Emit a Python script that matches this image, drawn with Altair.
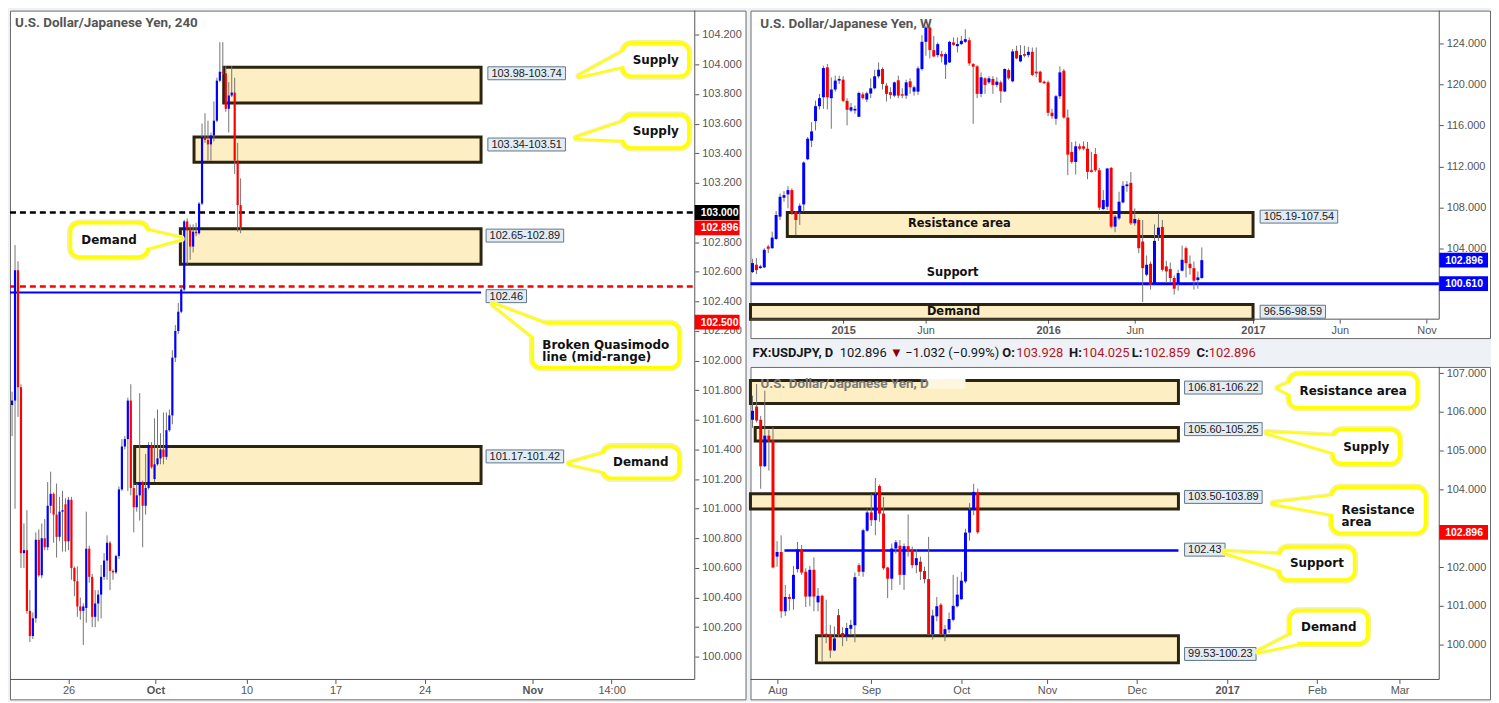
import altair as alt
import pandas as pd

# ======================= DATA =======================
# ---- USD/JPY 240-minute candles (oldest -> newest) ----
h4_open = [101.70, 101.73, 102.61, 101.82, 100.70, 100.72, 100.31, 100.14, 100.26, 100.79,
           100.55, 100.80, 100.74, 101.02, 101.10, 100.96, 100.81, 100.98, 101.03, 100.78,
           101.06, 100.60, 100.51, 100.34, 100.31, 100.33, 100.73, 100.54, 100.27, 100.36,
           100.42, 100.54, 100.65, 100.77, 100.58, 100.57, 100.68, 101.13, 101.42, 101.47,
           101.73, 101.14, 101.01, 101.09, 101.18, 101.02, 101.14, 101.43, 101.20, 101.30,
           101.34, 101.40, 101.35, 101.53, 101.63, 102.02, 102.20, 102.33, 102.48, 102.94,
           102.88, 102.77, 102.87, 102.86, 103.06, 103.51, 103.49, 103.46, 103.52, 103.62,
           103.89, 103.95, 103.94, 103.70, 103.79, 103.81, 103.35, 103.05]
h4_high = [101.79, 102.78, 102.67, 101.84, 100.90, 100.99, 100.45, 100.30, 100.84, 100.86,
           100.90, 100.93, 101.18, 101.25, 101.11, 101.17, 101.08, 101.12, 101.07, 101.08,
           101.08, 100.61, 100.61, 100.40, 100.36, 100.98, 100.75, 100.56, 100.45, 100.45,
           100.62, 100.70, 100.82, 100.78, 100.59, 100.69, 101.15, 101.47, 101.49, 101.75,
           101.84, 101.17, 101.17, 101.78, 101.19, 101.37, 101.45, 101.45, 101.61, 101.67,
           101.51, 101.65, 101.65, 101.67, 102.07, 102.24, 102.39, 102.51, 102.95, 102.96,
           102.92, 102.92, 102.93, 103.07, 103.60, 103.67, 103.62, 103.54, 103.75, 103.91,
           104.15, 104.15, 103.99, 103.88, 103.99, 103.91, 103.47, 103.23]
h4_low = [101.49, 101.00, 101.62, 100.60, 100.60, 100.29, 100.10, 100.12, 100.23, 100.54,
          100.53, 100.72, 100.72, 100.97, 100.77, 100.67, 100.78, 100.71, 100.71, 100.72,
          100.52, 100.41, 100.27, 100.25, 100.08, 100.23, 100.50, 100.20, 100.20, 100.24,
          100.26, 100.52, 100.52, 100.45, 100.52, 100.56, 100.66, 101.12, 101.40, 101.12,
          101.09, 100.84, 100.98, 100.92, 100.74, 100.96, 101.13, 101.27, 101.18, 101.29,
          101.30, 101.30, 101.33, 101.52, 101.57, 101.99, 102.18, 102.32, 102.47, 102.65,
          102.68, 102.73, 102.84, 102.85, 103.05, 103.47, 103.35, 103.35, 103.48, 103.61,
          103.88, 103.93, 103.68, 103.54, 103.78, 103.26, 102.87, 102.86]
h4_close = [101.73, 102.61, 101.82, 100.70, 100.72, 100.31, 100.14, 100.26, 100.79, 100.55,
            100.80, 100.74, 101.02, 101.10, 100.96, 100.81, 100.98, 100.99, 100.78, 101.06,
            100.60, 100.51, 100.34, 100.31, 100.34, 100.73, 100.54, 100.27, 100.36, 100.42,
            100.54, 100.65, 100.77, 100.58, 100.57, 100.68, 101.13, 101.42, 101.47, 101.73,
            101.14, 101.01, 101.09, 101.18, 101.02, 101.14, 101.43, 101.28, 101.30, 101.34,
            101.40, 101.35, 101.53, 101.63, 102.02, 102.20, 102.33, 102.48, 102.94, 102.88,
            102.77, 102.87, 102.86, 103.06, 103.51, 103.49, 103.46, 103.52, 103.62, 103.89,
            103.95, 103.94, 103.70, 103.79, 103.81, 103.35, 103.05, 102.896]
h4_tick_pos = [19, 48.3, 79, 109, 139, 175.3, 202]
h4_tick_lab = ["26", "Oct", "10", "17", "24", "Nov", "14:00"]
h4_tick_bold = ["Oct", "Nov"]
h4_price_ticks = [100.0, 100.2, 100.4, 100.6, 100.8, 101.0, 101.2, 101.4, 101.6, 101.8, 102.0,
                  102.2, 102.4, 102.6, 102.8, 103.2, 103.4, 103.6, 103.8, 104.0, 104.2]
h4_zone_start = [71.3, 61.3, 56.7, 41.3]
h4_zone_end = [158, 158, 158, 158]
h4_zone_lo = [103.74, 103.34, 102.65, 101.17]
h4_zone_hi = [103.98, 103.51, 102.89, 101.42]
h4_box_text = ["103.98-103.74", "103.34-103.51", "102.65-102.89", "102.46", "101.17-101.42"]
h4_box_x = [160.3, 160.3, 159.7, 159.7, 159.7]
h4_box_y = [103.94, 103.459, 102.844, 102.435, 101.353]
h4_round = 103.0
h4_mid = 102.5
h4_bqm = 102.46
h4_badge_text = ["103.000", "102.896", "102.500"]
h4_badge_y = [103.0, 102.896, 102.26]
h4_badge_col = ["#000000", "#ff0000", "#ff0000"]

# ---- USD/JPY weekly candles ----
w_open = [101.74, 102.45, 102.12, 102.19, 104.22, 104.06, 104.96, 107.13, 108.97, 109.29,
          109.71, 107.55, 107.55, 108.32, 112.71, 114.52, 116.42, 117.87, 118.74, 121.65,
          118.65, 119.49, 120.36, 120.45, 118.39, 117.45, 117.45, 116.84, 119.03, 118.52,
          119.10, 119.61, 120.78, 121.49, 119.87, 119.23, 118.90, 120.39, 119.03, 118.90,
          120.29, 119.29, 119.29, 121.49, 124.13, 125.52, 123.33, 122.84, 122.94, 121.91,
          122.13, 124.07, 123.71, 123.91, 124.13, 124.29, 121.97, 121.74, 119.07, 120.58,
          120.19, 120.52, 119.94, 120.19, 119.29, 121.39, 120.29, 123.26, 122.23, 122.94,
          122.84, 123.16, 121.23, 121.23, 120.26, 120.19, 117.23, 116.65, 118.84, 121.32,
          116.77, 113.42, 112.45, 113.97, 113.97, 113.74, 111.64, 113.22, 111.64, 107.87,
          108.09, 111.87, 106.16, 106.96, 108.51, 110.09, 110.42, 106.48, 106.80, 104.71,
          101.48, 102.54, 100.51, 105.35, 106.13, 102.29, 102.03, 101.16, 100.58, 101.87,
          104.06, 102.54, 102.12, 100.96, 101.16]
w_high = [103.03, 103.09, 102.45, 104.06, 104.38, 105.67, 107.67, 109.38, 109.61, 110.09,
          109.87, 107.67, 108.42, 112.51, 114.87, 116.32, 118.42, 119.07, 121.81, 121.97,
          120.68, 120.84, 120.84, 120.78, 118.65, 118.19, 117.94, 119.29, 119.23, 119.29,
          120.58, 121.42, 122.13, 121.65, 120.13, 119.71, 120.26, 120.84, 119.61, 120.45,
          120.58, 119.87, 121.74, 124.78, 125.68, 125.62, 124.71, 124.07, 123.26, 123.10,
          124.23, 124.55, 124.55, 124.71, 125.36, 124.55, 122.07, 121.87, 121.16, 120.68,
          120.78, 120.78, 120.68, 120.36, 121.55, 121.55, 123.42, 123.75, 123.81, 123.75,
          123.65, 123.58, 123.58, 121.32, 120.36, 120.36, 117.61, 118.97, 121.74, 121.49,
          117.55, 114.39, 114.45, 114.23, 114.45, 114.39, 113.42, 113.81, 111.87, 109.71,
          111.87, 111.97, 107.29, 109.55, 110.58, 110.58, 111.48, 107.93, 106.96, 106.80,
          103.35, 102.77, 106.38, 107.45, 106.80, 102.83, 102.67, 101.41, 101.96, 104.32,
          104.22, 103.35, 102.77, 101.80, 104.13]
w_low = [101.64, 101.54, 102.06, 102.12, 103.58, 104.00, 104.87, 106.80, 108.58, 107.93,
         107.29, 105.35, 106.32, 107.61, 112.61, 113.90, 115.52, 117.55, 117.61, 117.55,
         115.68, 119.29, 120.03, 118.26, 116.00, 117.29, 117.13, 116.81, 118.52, 118.26,
         118.65, 119.49, 120.58, 119.49, 118.32, 118.58, 118.74, 118.65, 118.65, 118.58,
         119.07, 118.90, 118.97, 121.32, 122.78, 122.52, 122.62, 122.62, 122.13, 120.52,
         122.07, 123.75, 123.10, 123.81, 124.00, 121.81, 116.16, 118.65, 118.74, 119.07,
         120.03, 119.07, 119.71, 118.19, 119.23, 120.45, 120.19, 122.45, 122.13, 122.62,
         122.62, 120.78, 120.68, 120.13, 120.03, 116.90, 116.65, 116.06, 118.58, 116.65,
         111.16, 112.29, 111.22, 113.58, 113.58, 110.77, 111.42, 111.48, 107.77, 107.77,
         107.77, 106.00, 105.61, 106.80, 108.42, 109.55, 106.32, 106.26, 103.58, 98.83,
         101.32, 100.03, 100.45, 104.77, 101.80, 100.67, 100.77, 99.54, 99.93, 101.80,
         101.22, 101.48, 100.03, 100.12, 101.09]
w_close = [102.61, 101.93, 102.29, 103.90, 104.00, 105.09, 107.29, 109.06, 109.22, 109.71,
           107.55, 106.80, 108.19, 112.39, 114.71, 115.42, 117.87, 118.65, 121.58, 118.74,
           119.49, 120.36, 120.52, 118.39, 117.52, 117.77, 117.61, 119.16, 118.65, 119.13,
           119.61, 120.78, 121.42, 120.03, 119.07, 118.97, 120.19, 118.90, 118.90, 120.19,
           119.71, 119.71, 121.55, 124.13, 125.52, 123.33, 122.71, 123.91, 122.71, 122.94,
           124.13, 123.84, 123.91, 124.23, 124.39, 122.03, 121.71, 119.07, 120.68, 119.94,
           120.58, 119.94, 120.26, 119.32, 121.49, 120.58, 123.20, 122.52, 122.84, 122.78,
           123.16, 120.91, 121.07, 120.19, 120.10, 117.23, 116.90, 118.84, 121.16, 116.77,
           113.16, 112.45, 113.97, 113.74, 113.74, 111.48, 111.48, 111.64, 108.00, 108.74,
           111.81, 106.16, 107.13, 108.58, 110.13, 110.26, 106.48, 106.90, 104.06, 102.12,
           102.45, 100.51, 104.77, 106.06, 101.96, 101.80, 101.16, 100.12, 101.64, 102.93,
           102.61, 102.12, 100.90, 101.22, 102.896]
w_tick_pos = [23.0, 43.9, 75.0, 97.0, 127.0, 149.0, 171.0]
w_tick_lab = ["2015", "Jun", "2016", "Jun", "2017", "Jun", "Nov"]
w_tick_bold = ["2015", "2016", "2017"]
w_price_ticks = [104, 108, 112, 116, 120, 124]
w_zone_start = [8.84, -0.5]
w_zone_end = [127.0, 127.0]
w_zone_lo = [105.19, 96.56]
w_zone_hi = [107.54, 98.59]
w_zone_names = ["Resistance area", "Demand"]
w_zone_name_x = [52.5, 51.0]
w_zone_name_y = [106.365, 97.87]
w_support = 100.61
w_box_text = ["105.19-107.54", "96.56-98.59"]
w_box_x = [128.8, 128.8]
w_box_y = [107.13, 97.88]
w_badge_text = ["102.896", "100.610"]
w_badge_y = [102.896, 100.61]
w_badge_col = ["#0000ff", "#0000ff"]

# ---- USD/JPY daily candles ----
d_open = [105.80, 106.14, 105.80, 104.60, 105.39, 105.26, 102.27, 102.39, 100.86, 101.23,
          101.18, 101.95, 102.46, 101.88, 101.24, 101.93, 101.09, 101.26, 100.28, 100.26,
          99.85, 100.76, 100.30, 100.21, 100.41, 100.50, 102.05, 101.88, 102.94, 103.41,
          103.21, 104.09, 103.38, 101.99, 101.70, 102.48, 102.55, 101.80, 102.54, 102.44,
          102.05, 102.14, 101.90, 101.69, 100.27, 100.73, 101.03, 100.27, 100.39, 100.64,
          100.99, 101.17, 101.63, 102.89, 103.47, 103.928]
d_high = [106.42, 106.72, 105.90, 106.55, 105.54, 105.61, 102.67, 102.82, 101.54, 101.31,
          102.03, 102.65, 102.57, 101.97, 102.03, 102.25, 101.46, 101.29, 101.16, 100.51,
          100.47, 100.92, 100.45, 100.56, 100.64, 101.86, 102.10, 102.99, 103.51, 103.89,
          104.30, 104.13, 103.81, 102.01, 102.61, 102.70, 102.70, 102.61, 103.36, 102.53,
          102.46, 102.27, 102.01, 102.78, 100.90, 101.23, 101.07, 100.51, 100.83, 101.80,
          101.75, 101.88, 102.99, 103.65, 104.15, 104.025]
d_low = [105.59, 105.73, 104.02, 104.58, 104.49, 101.97, 102.01, 100.69, 100.74, 100.88,
         100.90, 101.86, 101.80, 100.97, 100.99, 100.86, 100.86, 99.57, 100.04, 99.66,
         99.83, 100.20, 99.96, 100.09, 100.26, 100.06, 101.77, 101.75, 102.91, 103.06,
         102.82, 103.17, 101.93, 101.20, 101.41, 102.35, 101.54, 101.41, 102.27, 101.97,
         101.84, 101.67, 101.58, 100.26, 100.13, 100.60, 100.26, 100.09, 100.30, 100.60,
         100.96, 101.16, 101.58, 102.68, 103.34, 102.859]
d_close = [106.03, 105.78, 104.60, 105.39, 105.26, 101.99, 102.39, 100.86, 101.23, 101.18,
           101.80, 102.46, 101.86, 101.24, 101.93, 101.24, 101.26, 100.26, 100.24, 99.85,
           100.16, 100.26, 100.21, 100.43, 100.51, 101.74, 101.88, 102.95, 103.41, 103.21,
           103.88, 103.38, 101.97, 101.70, 102.48, 102.64, 101.80, 102.54, 102.41, 102.05,
           102.23, 101.88, 101.69, 100.27, 100.75, 100.99, 100.27, 100.40, 100.66, 101.00,
           101.29, 101.65, 102.89, 103.48, 103.94, 102.896]
d_tick_pos = [6.08, 28.9, 51.0, 71.9, 93.8, 115.9, 137.8, 158.0]
d_tick_lab = ["Aug", "Sep", "Oct", "Nov", "Dec", "2017", "Feb", "Mar"]
d_tick_bold = ["2017"]
d_price_ticks = [100, 101, 102, 104, 105, 106, 107]
d_zone_start = [-0.5, 0.66, -0.5, 15.6]
d_zone_end = [104.0, 104.0, 104.0, 104.0]
d_zone_lo = [106.22, 105.25, 103.50, 99.53]
d_zone_hi = [106.81, 105.60, 103.89, 100.23]
d_support = 102.43
d_box_text = ["106.81-106.22", "105.60-105.25", "103.50-103.89", "102.43", "99.53-100.23"]
d_box_x = [105.5, 105.5, 105.5, 105.5, 105.5]
d_box_y = [106.63, 105.558, 103.81, 102.45, 99.76]
d_badge_text = ["102.896"]
d_badge_y = [102.896]
d_badge_col = ["#ff0000"]
d_head_text = ["FX:USDJPY, D", "102.896", "\u25bc", "\u22121.032 (\u22120.99%)", "O:", "103.928",
               "H:", "104.025", "L:", "102.859", "C:", "102.896"]
d_head_x = [0.0, 21.3, 33.6, 37.3, 61.0, 64.4, 77.3, 80.6, 92.6, 95.5, 108.4, 111.4]
d_head_col = ["#131722", "#131722", "#8b0000", "#131722", "#131722", "#b5161c",
              "#131722", "#b5161c", "#131722", "#b5161c", "#131722", "#b5161c"]
d_head_bold = [True, False, False, False, True, False, True, False, True, False, True, False]

# ======================= STYLE =======================
UP, DN, WICK = "#0000ff", "#ff0000", "#747474"
ZONE_FILL, ZONE_STROKE = "#fdefc3", "#2b2410"
LBL_FILL, LBL_STROKE = "#e3ebf3", "#5f7689"
YEL, GLOW = "#ffff00", "#f6f1a0"
AXC = "#555555"
BG = "#eef1f5"
F_AX = "Liberation Sans"
F_TXT = "DejaVu Sans"
F_TTL = "Roboto"


def text_w(s, size):
    w = 0.0
    for ch in s:
        if ch.isdigit():
            w += 0.556
        elif ch == ".":
            w += 0.278
        elif ch == "-":
            w += 0.333
        else:
            w += 0.5
    return w * size


def lab_expr(pos, lab):
    e = "''"
    for p, t in zip(pos[::-1], lab[::-1]):
        e = f"datum.value == {p} ? '{t}' : ({e})"
    return e


def build(cfg):
    W, H, PW, PH = cfg["W"], cfg["H"], cfg["PW"], cfg["PH"]
    x0, x1, ytop, ybot = cfg["x0"], cfg["x1"], cfg["ytop"], cfg["ybot"]
    kx = PW / (x1 - x0)
    ky = PH / (ytop - ybot)
    xs = alt.Scale(domain=[x0, x0 + W / kx], nice=False, zero=False, padding=0)
    ys = alt.Scale(domain=[ytop - H / ky, ytop], nice=False, zero=False, padding=0)
    bold_test = " || ".join(f"datum.value == {p}" for p, t in zip(cfg["xt_pos"], cfg["xt_lab"])
                            if t in cfg["xt_bold"]) or "false"
    xaxis = alt.Axis(orient="bottom", offset=-(H - PH), values=cfg["xt_pos"],
                     labelExpr=lab_expr(cfg["xt_pos"], cfg["xt_lab"]),
                     labelFont=F_AX, labelFontSize=11, labelColor=AXC,
                     labelFontWeight={"condition": {"test": bold_test, "value": "bold"}, "value": "normal"},
                     tickColor=AXC, tickSize=4, labelPadding=1, domain=False, grid=False,
                     title=None, labelOverlap=False, labelFlush=False)
    yaxis = alt.Axis(orient="right", offset=-(W - PW), values=cfg["yt"], format=cfg["yfmt"],
                     labelFont=F_AX, labelFontSize=11, labelColor=AXC, tickColor=AXC, tickSize=4,
                     labelPadding=3, domain=False, grid=False, title=None, labelOverlap=False,
                     labelFlush=False)

    def X(f):
        return alt.X(f"{f}:Q", scale=xs, axis=xaxis)

    def Y(f):
        return alt.Y(f"{f}:Q", scale=ys, axis=yaxis, stack=None)

    L = []
    # zones
    zd = pd.DataFrame({"a": cfg["z_a"], "b": cfg["z_b"],
                       "lo": [max(v, ybot) for v in cfg["z_lo"]], "hi": cfg["z_hi"]})
    L.append(alt.Chart(zd).mark_rect(fill=ZONE_FILL, stroke=ZONE_STROKE, strokeWidth=3)
             .encode(x=X("a"), x2="b", y=Y("lo"), y2="hi"))
    # horizontal lines
    for ln in cfg["lines"]:
        df = pd.DataFrame({"a": [ln["a"] if ln["a"] is not None else x0],
                           "b": [ln["b"] if ln["b"] is not None else x1], "v": [ln["v"]]})
        kw = dict(color=ln["color"], strokeWidth=ln["width"])
        if ln.get("dash"):
            kw["strokeDash"] = ln["dash"]
        L.append(alt.Chart(df).mark_rule(**kw).encode(x=X("a"), x2="b", y=Y("v")))
    # candles
    cd = pd.DataFrame({"i": list(range(len(cfg["o"]))), "o": cfg["o"], "h": cfg["h"],
                       "l": cfg["l"], "c": cfg["c"]})
    L.append(alt.Chart(cd).mark_rule(color=WICK, strokeWidth=1).encode(x=X("i"), y=Y("l"), y2="h"))
    L.append(alt.Chart(cd).mark_bar(size=cfg["bw"]).encode(
        x=X("i"), y=Y("o"), y2="c",
        color=alt.condition("datum.c >= datum.o", alt.value(UP), alt.value(DN))))
    # axis lines
    ad = pd.DataFrame({"a": [x1, x0], "b": [x1, x1], "p": [ybot, ybot], "q": [ytop, ybot]})
    L.append(alt.Chart(ad).mark_rule(color=AXC, strokeWidth=1)
             .encode(x=X("a"), x2="b", y=Y("p"), y2="q"))
    # inline zone names
    if cfg.get("in_t"):
        idf = pd.DataFrame({"x": cfg["in_x"], "y": cfg["in_y"], "t": cfg["in_t"]})
        L.append(alt.Chart(idf).mark_text(font=F_TXT, fontWeight="bold", fontSize=11.5,
                                          color="#111111", align="center", baseline="middle")
                 .encode(x=X("x"), y=Y("y"), text="t:N"))
    # price label boxes
    lb = pd.DataFrame({"x": cfg["lb_x"], "y": cfg["lb_y"], "t": cfg["lb_t"]})
    lb["x2"] = lb["x"] + lb["t"].map(lambda s: (text_w(s, 11) + 7) / kx)
    lb["xm"] = (lb["x"] + lb["x2"]) / 2
    lb["y0"] = lb["y"] - 6.5 / ky
    lb["y1"] = lb["y"] + 6.5 / ky
    L.append(alt.Chart(lb).mark_rect(fill=LBL_FILL, stroke=LBL_STROKE, strokeWidth=1)
             .encode(x=X("x"), x2="x2", y=Y("y0"), y2="y1"))
    L.append(alt.Chart(lb).mark_text(font=F_AX, fontSize=11, color="#1a1a1a", align="center",
                                     baseline="middle", dy=0.5)
             .encode(x=X("xm"), y=Y("y"), text="t:N"))
    # callout bubbles
    bb = cfg["bubbles"]
    if bb:
        tri, box = [], []
        for k, b in enumerate(bb):
            tri.append({"id": k, "x": b["tip"][0], "y": b["tip"][1], "y2": b["tip"][1]})
            tri.append({"id": k, "x": b["base"][0], "y": b["base"][1], "y2": b["base"][2]})
            bx0, bx1, blo, bhi = b["box"]
            box.append({"a": bx0, "b": bx1, "lo": blo, "hi": bhi,
                        "xm": (bx0 + bx1) / 2, "xl": bx0 + 10 / kx, "ym": (blo + bhi) / 2,
                        "t": b["text"], "al": b.get("align", "center")})
        td = pd.DataFrame(tri)
        bd = pd.DataFrame(box)

        def tri_layer(stroke, sw):
            kw = dict(fill="white", strokeJoin="round")
            if stroke:
                kw.update(stroke=stroke, strokeWidth=sw)
            else:
                kw.update(strokeWidth=0)
            return alt.Chart(td).mark_area(**kw).encode(x=X("x"), y=Y("y"), y2="y2", detail="id:N")

        def box_layer(stroke, sw):
            return alt.Chart(bd).mark_rect(fill="white", stroke=stroke, strokeWidth=sw, cornerRadius=9) \
                .encode(x=X("a"), x2="b", y=Y("lo"), y2="hi")

        L += [tri_layer(GLOW, 7), box_layer(GLOW, 7), tri_layer(YEL, 4), box_layer(YEL, 3.5),
              tri_layer(None, 0)]
        bc = bd[bd["al"] == "center"]
        bl = bd[bd["al"] == "left"]
        if len(bc):
            L.append(alt.Chart(bc).mark_text(font=F_TXT, fontWeight="bold", fontSize=12, color="#111111",
                                             align="center", baseline="middle", lineBreak="\n")
                     .encode(x=X("xm"), y=Y("ym"), text="t:N"))
        if len(bl):
            L.append(alt.Chart(bl).mark_text(font=F_TXT, fontWeight="bold", fontSize=12, color="#111111",
                                             align="left", baseline="middle", lineBreak="\n", lineHeight=12)
                     .encode(x=X("xl"), y=Y("ym"), text="t:N"))
    # price badges on the axis
    bg = pd.DataFrame({"y": cfg["bd_y"], "t": cfg["bd_t"], "col": cfg["bd_c"]})
    bg["a"] = x1
    bg["b"] = x1 + cfg["bd_w"] / kx
    bg["y0"] = bg["y"] - 7.5 / ky
    bg["y1"] = bg["y"] + 7.5 / ky
    bg["xt"] = x1 + 6 / kx
    L.append(alt.Chart(bg).mark_rect().encode(x=X("a"), x2="b", y=Y("y0"), y2="y1",
                                               color=alt.Color("col:N", scale=None)))
    L.append(alt.Chart(bg).mark_text(font=F_AX, fontWeight="bold", fontSize=10.5, color="white",
                                     align="left", baseline="middle", dy=0.5)
             .encode(x=X("xt"), y=Y("y"), text="t:N"))
    # extra pale rect (daily legend)
    if cfg.get("pale"):
        pa, pb, plo, phi = cfg["pale"]
        pdf = pd.DataFrame({"a": [pa], "b": [pb], "lo": [plo], "hi": [phi]})
        L.append(alt.Chart(pdf).mark_rect(fill="#fcf7de").encode(x=X("a"), x2="b", y=Y("lo"), y2="hi"))
    # title
    tdf = pd.DataFrame({"x": [cfg["ttl"][0]], "y": [cfg["ttl"][1]], "t": [cfg["ttl"][2]]})
    L.append(alt.Chart(tdf).mark_text(font=F_TTL, fontWeight="bold", fontSize=13.5,
                                      color=cfg.get("ttl_col", "#555555"), align="left",
                                      baseline="middle")
             .encode(x=X("x"), y=Y("y"), text="t:N"))
    # header line (daily)
    if cfg.get("head"):
        hx, hy, ht, hc, hb = cfg["head"]
        hdf = pd.DataFrame({"x": hx, "y": [hy] * len(hx), "t": ht, "col": hc, "b": hb})
        for flag, wt in ((True, "bold"), (False, "normal")):
            sub = hdf[hdf["b"] == flag]
            L.append(alt.Chart(sub).mark_text(font=F_TTL, fontWeight=wt, fontSize=13,
                                              align="left", baseline="middle")
                     .encode(x=X("x"), y=Y("y"), text="t:N",
                             color=alt.Color("col:N", scale=None)))
    return alt.layer(*L).properties(width=W, height=H)


H4 = dict(W=739, H=692, PW=688, PH=672, x0=-0.7, x1=230.0, ytop=104.363, ybot=99.847,
          o=h4_open, h=h4_high, l=h4_low, c=h4_close, bw=2.2,
          xt_pos=h4_tick_pos, xt_lab=h4_tick_lab, xt_bold=h4_tick_bold,
          yt=h4_price_ticks, yfmt=".3f",
          z_a=h4_zone_start, z_b=h4_zone_end, z_lo=h4_zone_lo, z_hi=h4_zone_hi,
          lines=[dict(v=h4_round, a=None, b=None, color="#000000", width=2.5, dash=[6, 4]),
                 dict(v=h4_mid, a=None, b=None, color="#ff0000", width=2.5, dash=[6, 4]),
                 dict(v=h4_bqm, a=None, b=158, color="#0000ff", width=2)],
          lb_x=h4_box_x, lb_y=h4_box_y, lb_t=h4_box_text,
          bubbles=[dict(text="Supply", box=(205.7, 228.0, 103.92, 104.141), tip=(191.0, 103.92),
                        base=(208.0, 104.0, 104.108)),
                   dict(text="Supply", box=(205.7, 228.0, 103.436, 103.658), tip=(190.0, 103.503),
                        base=(208.0, 103.49, 103.624)),
                   dict(text="Demand", box=(19.7, 45.7, 102.70, 102.93), tip=(57.0, 102.824),
                        base=(43.7, 102.75, 102.885)),
                   dict(text="Broken Quasimodo\nline (mid-range)", box=(175.3, 224.7, 101.951, 102.253),
                        tip=(162.0, 102.381), base=(179.7, 102.098, 102.246), align="left"),
                   dict(text="Demand", box=(199.0, 224.7, 101.205, 101.42), tip=(187.7, 101.306),
                        base=(201.0, 101.245, 101.38))],
          bd_y=h4_badge_y, bd_t=h4_badge_text, bd_c=h4_badge_col, bd_w=45,
          ttl=(1.0, 104.28, "U.S. Dollar/Japanese Yen, 240"))

WK = dict(W=743, H=329, PW=692, PH=310, x0=-0.5, x1=174.24, ytop=127.166, ybot=97.156,
          o=w_open, h=w_high, l=w_low, c=w_close, bw=3,
          xt_pos=w_tick_pos, xt_lab=w_tick_lab, xt_bold=w_tick_bold,
          yt=w_price_ticks, yfmt=".3f",
          z_a=w_zone_start, z_b=w_zone_end, z_lo=w_zone_lo, z_hi=w_zone_hi,
          lines=[dict(v=w_support, a=None, b=None, color="#0000ff", width=3)],
          in_t=w_zone_names + ["Support"], in_x=w_zone_name_x + [50.8], in_y=w_zone_name_y + [101.64],
          lb_x=w_box_x, lb_y=w_box_y, lb_t=w_box_text,
          bubbles=[],
          bd_y=w_badge_y, bd_t=w_badge_text, bd_c=w_badge_col, bd_w=49,
          ttl=(2.0, 125.91, "U.S. Dollar/Japanese Yen, W"))

DY = dict(W=743, H=334, PW=692, PH=314, x0=-0.49, x1=167.68, ytop=107.162, ybot=99.102,
          o=d_open, h=d_high, l=d_low, c=d_close, bw=3,
          xt_pos=d_tick_pos, xt_lab=d_tick_lab, xt_bold=d_tick_bold,
          yt=d_price_ticks, yfmt=".3f",
          z_a=d_zone_start, z_b=d_zone_end, z_lo=d_zone_lo, z_hi=d_zone_hi,
          lines=[dict(v=d_support, a=7.8, b=104.0, color="#0000ff", width=2.5)],
          lb_x=d_box_x, lb_y=d_box_y, lb_t=d_box_text,
          bubbles=[dict(text="Resistance area", box=(131.0, 162.3, 106.11, 106.98), tip=(128.3, 106.623),
                        base=(133.0, 106.37, 106.83)),
                   dict(text="Supply", box=(141.7, 158.0, 104.67, 105.545), tip=(125.6, 105.47),
                        base=(143.5, 104.904, 105.366)),
                   dict(text="Resistance\narea", box=(141.4, 164.3, 102.876, 104.057), tip=(127.1, 103.646),
                        base=(143.2, 103.34, 103.85), align="left"),
                   dict(text="Support", box=(128.6, 147.0, 101.67, 102.52), tip=(115.2, 102.388),
                        base=(130.4, 101.875, 102.31)),
                   dict(text="Demand", box=(131.2, 150.2, 100.027, 100.874), tip=(123.5, 99.82),
                        base=(133.0, 100.03, 100.335))],
          bd_y=d_badge_y, bd_t=d_badge_text, bd_c=d_badge_col, bd_w=49,
          pale=(42.5, 52.0, 106.6, 106.85),
          ttl=(1.94, 106.73, "U.S. Dollar/Japanese Yen, D"), ttl_col="#7a7a7a",
          head=(d_head_x, 107.52, d_head_text, d_head_col, d_head_bold))

left = build(H4)
week = build(WK)
day = build(DY)

chart = alt.hconcat(left, alt.vconcat(week, day, spacing=29, bounds="flush"),
                    spacing=5, bounds="flush") \
    .properties(background=BG, padding=0) \
    .configure_view(stroke="#6a6a6a", strokeWidth=1, fill="white")

chart.save("out.html", embed_options={"renderer": "svg", "actions": False})
